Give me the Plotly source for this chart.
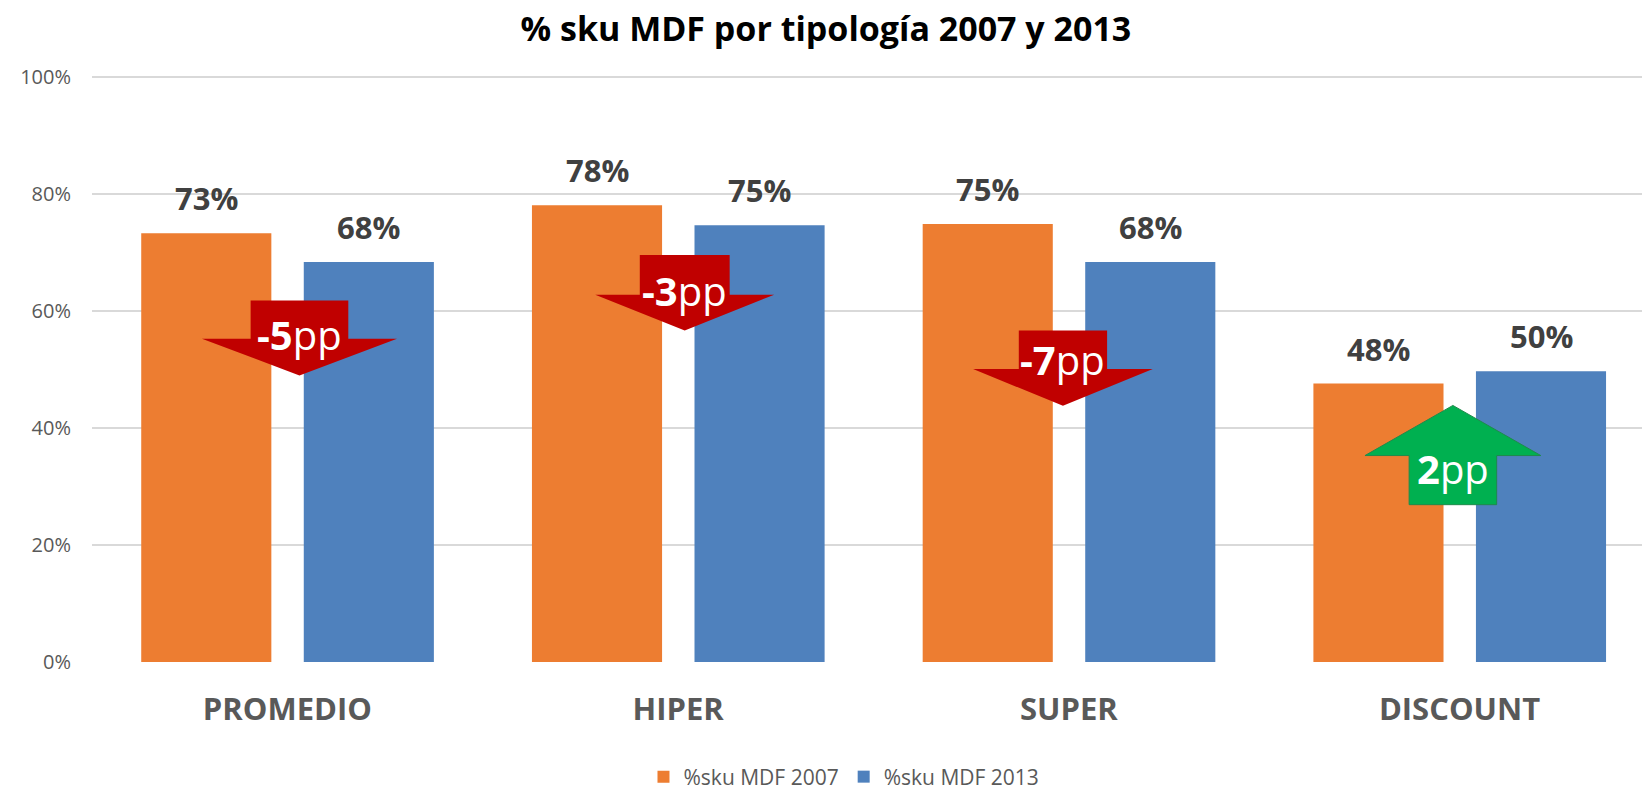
import plotly.graph_objects as go

# ---------------- data ----------------
categories = ["PROMEDIO", "HIPER", "SUPER", "DISCOUNT"]
sku_2007 = [0.733, 0.781, 0.749, 0.476]
sku_2013 = [0.684, 0.747, 0.684, 0.497]
series_names = ["%sku MDF 2007", "%sku MDF 2013"]
y_ticks = [0, 0.2, 0.4, 0.6, 0.8, 1.0]

# ---------------- style ----------------
ORANGE = "#ED7D31"
BLUE = "#4F81BD"
RED = "#C00000"
GREEN = "#00B050"
GREEN_EDGE = "#1F8A4C"
GRID = "#D9D9D9"
FONT = "Open Sans"

BAR_W = 0.333
OFF_2007 = -0.374
OFF_2013 = 0.042

# arrow geometry (data units, relative to category index)
# dx, body half width, head half width, y_body_end, y_base, y_tip, y_text
ARROWS = [
    (0.031, 0.125, 0.2496, 0.618, 0.5526, 0.490, 0.560),
    (0.017, 0.115, 0.229, 0.696, 0.628, 0.567, 0.635),
    (-0.015, 0.113, 0.230, 0.567, 0.501, 0.438, 0.517),
    (-0.017, 0.112, 0.225, 0.269, 0.353, 0.4387, 0.331),
]

idx = list(range(len(categories)))

fig = go.Figure()
fig.add_trace(go.Bar(x=idx, y=sku_2007, name=series_names[0], width=BAR_W,
                     offset=OFF_2007, marker=dict(color=ORANGE, line=dict(width=0))))
fig.add_trace(go.Bar(x=idx, y=sku_2013, name=series_names[1], width=BAR_W,
                     offset=OFF_2013, marker=dict(color=BLUE, line=dict(width=0))))

annotations = []
labels07 = [round(v * 100) for v in sku_2007]
labels13 = [round(v * 100) for v in sku_2013]
for i in idx:
    for v, lab, off in ((sku_2007[i], labels07[i], OFF_2007), (sku_2013[i], labels13[i], OFF_2013)):
        annotations.append(dict(x=i + off + BAR_W / 2, y=v, xref="x", yref="y",
                                text=f"{lab}%", showarrow=False, yanchor="bottom",
                                yshift=12,
                                font=dict(family=FONT, size=31, color="#404040", weight="bold")))

shapes = []
for i in idx:
    dx, bw, hw, yb, ybase, ytip, ytxt = ARROWS[i]
    cx = i + dx
    diff = labels13[i] - labels07[i]
    color = GREEN if diff > 0 else RED
    path = (f"M {cx-bw},{yb} L {cx+bw},{yb} L {cx+bw},{ybase} L {cx+hw},{ybase} "
            f"L {cx},{ytip} L {cx-hw},{ybase} L {cx-bw},{ybase} Z")
    shapes.append(dict(type="path", path=path, xref="x", yref="y", fillcolor=color,
                       line=dict(color=GREEN_EDGE if diff > 0 else color,
                                 width=1 if diff > 0 else 0),
                       layer="above"))
    sign = "-" if diff < 0 else ""
    annotations.append(dict(x=cx, y=ytxt, xref="x", yref="y", showarrow=False,
                            text=f"<b>{sign}{abs(diff)}</b>pp", yanchor="middle",
                            font=dict(family=FONT, size=40, color="white")))

fig.update_layout(
    width=1642, height=792,
    margin=dict(l=92, r=0, t=76.4, b=130.2, autoexpand=False),
    paper_bgcolor="white", plot_bgcolor="white",
    barmode="overlay",
    title=dict(text="% sku MDF por tipología 2007 y 2013", x=0.503, xref="container",
               y=1 - 29.5 / 792, yref="container", xanchor="center", yanchor="middle",
               font=dict(family=FONT, size=34, color="black", weight="bold")),
    xaxis=dict(range=[-0.5, 3.467], tickvals=idx, ticktext=categories, showgrid=False,
               zeroline=False, showline=False, ticks="", ticklabelstandoff=26,
               automargin=False,
               tickfont=dict(family=FONT, size=31, color="#595959", weight="bold")),
    yaxis=dict(range=[0, 1.002], tickvals=y_ticks, tickformat=".0%", showgrid=True,
               gridcolor=GRID, gridwidth=1.5, zeroline=False, showline=False, ticks="",
               ticklabelstandoff=20, automargin=False,
               tickfont=dict(family=FONT, size=20, color="#595959")),
    legend=dict(orientation="h", x=0.514, xanchor="center", xref="container",
                y=1 - 777 / 792, yref="container", yanchor="middle",
                font=dict(family=FONT, size=21, color="#595959"), itemclick=False,
                itemwidth=30, tracegroupgap=0),
    shapes=shapes,
    annotations=annotations,
    showlegend=True,
)

fig.write_html("out.html", config={"displayModeBar": False},
               post_script="document.body.style.margin='0';document.body.style.overflow='hidden';")
